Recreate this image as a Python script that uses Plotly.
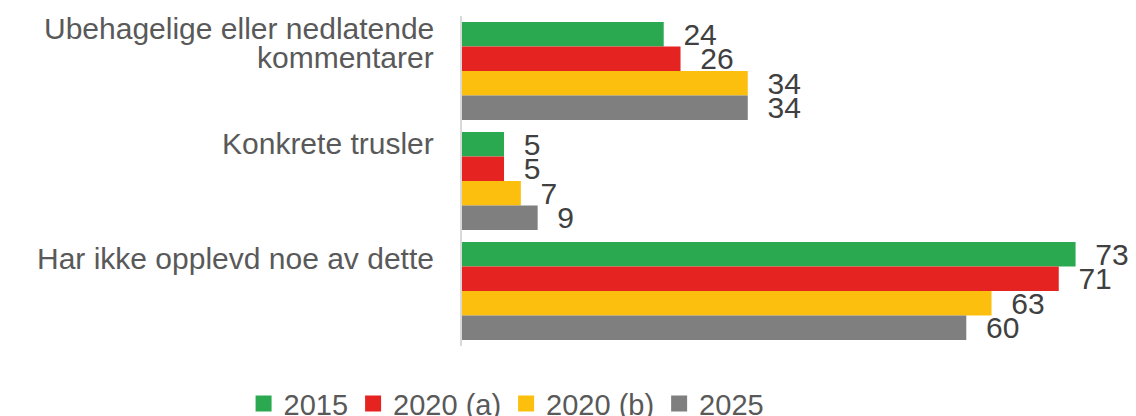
import plotly.graph_objects as go

categories = ["Ubehagelige eller nedlatende<br>kommentarer", "Konkrete trusler", "Har ikke opplevd noe av dette"]
series = ["2015", "2020 (a)", "2020 (b)", "2025"]
v2015 = [24, 5, 73]
v2020a = [26, 5, 71]
v2020b = [34, 7, 63]
v2025 = [34, 9, 60]

colors = ["#2BA951", "#E52421", "#FCBF0D", "#7F7F7F"]
font = "Liberation Sans, Arial, sans-serif"

fig = go.Figure()
for name, vals, col in zip(series, [v2015, v2020a, v2020b, v2025], colors):
    fig.add_trace(go.Bar(y=categories, x=vals, orientation="h", name=name,
                         marker=dict(color=col, line=dict(width=0)),
                         texttemplate="\u00a0\u00a0%{x}", textposition="outside",
                         constraintext="none", cliponaxis=False,
                         textfont=dict(size=30, color="#404040", family=font),
                         showlegend=False, hoverinfo="x+name"))
    # legend entry with a bigger square than the bar legend glyph
    fig.add_trace(go.Scatter(x=[None], y=[None], mode="markers", name=name,
                             marker=dict(symbol="square", size=16, color=col)))

# category labels, top-aligned with each group
label_yshift = [43, 38, 33]
for cat, shift in zip(categories, label_yshift):
    for k, line in enumerate(cat.split("<br>")):
        fig.add_annotation(text=line, xref="paper", x=0, xanchor="right", xshift=-26,
                           yref="y", y=cat, yanchor="middle", yshift=shift - 29 * k,
                           showarrow=False, font=dict(size=30, color="#595959", family=font))

# page body has an 8px margin, so the figure is kept 8px smaller
fig.update_layout(
    width=1128, height=408,
    margin=dict(l=454, r=10, t=8, b=70, autoexpand=False),
    plot_bgcolor="white", paper_bgcolor="white",
    barmode="group", bargap=0.11, bargroupgap=0,
    font=dict(family=font, color="#595959"),
    legend=dict(orientation="h", xref="container", yref="container",
                x=0.442, xanchor="center", y=0.093, yanchor="top",
                font=dict(size=29, color="#595959"), itemsizing="trace",
                bgcolor="rgba(0,0,0,0)"),
    xaxis=dict(range=[0, 79], showgrid=False, showticklabels=False, zeroline=False,
               showline=False, ticks=""),
    yaxis=dict(autorange="reversed", showticklabels=False, showgrid=False,
               showline=True, linecolor="#D9D9D9", linewidth=2, ticks=""),
)

fig.write_html("out.html")
